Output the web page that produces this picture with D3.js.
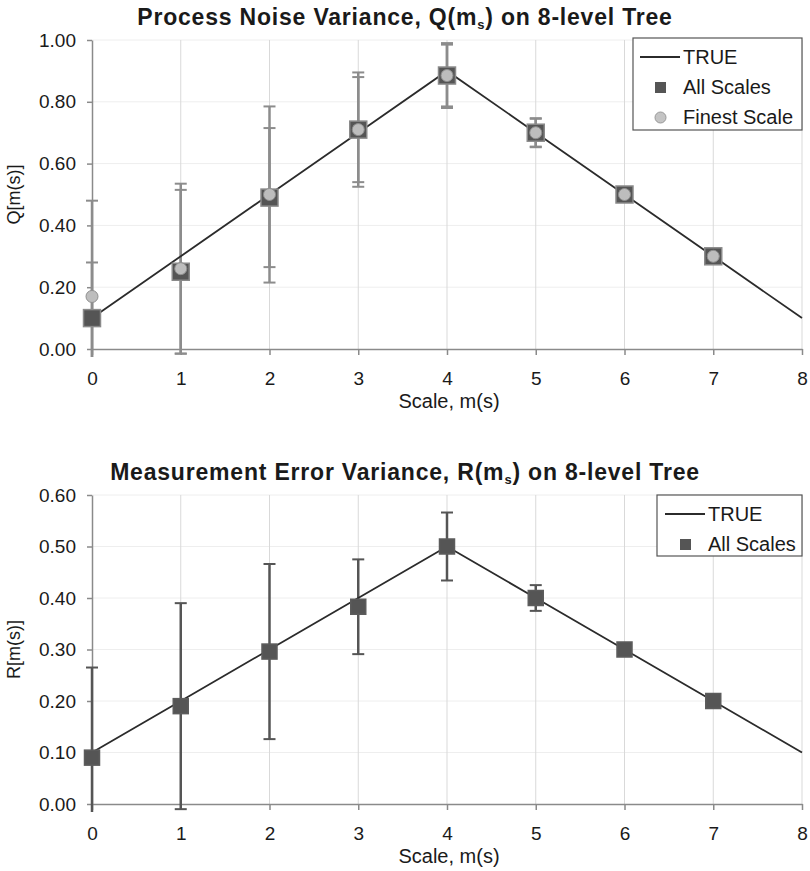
<!DOCTYPE html>
<html>
<head>
<meta charset="utf-8">
<script src="https://cdn.jsdelivr.net/npm/d3@7"></script>
<style>
    body { margin: 0; background: #fff; }
    text { font-family: "Liberation Sans", Arial, sans-serif; fill: #1a1a1a; }
</style>
</head>
<body>
<div id="chart"></div>
<script>
// x values
const scaleTicks = [0, 1, 2, 3, 4, 5, 6, 7, 8];
const estScales = [0, 1, 2, 3, 4, 5, 6, 7];

// Process noise variance Q
const qTicks = [0, 0.2, 0.4, 0.6, 0.8, 1.0];
const qTrue = [0.1, 0.3, 0.5, 0.7, 0.9, 0.7, 0.5, 0.3, 0.1];
const qAllScales = [0.10, 0.25, 0.49, 0.71, 0.885, 0.70, 0.50, 0.30];
const qAllScalesErr = [0.18, 0.265, 0.225, 0.17, 0.10, 0.045, 0.01, 0.01];
const qFinest = [0.17, 0.26, 0.50, 0.71, 0.885, 0.70, 0.50, 0.30];
const qFinestErr = [0.31, 0.275, 0.285, 0.185, 0.105, 0.047, 0.01, 0.01];

// Measurement error variance R
const rTicks = [0, 0.1, 0.2, 0.3, 0.4, 0.5, 0.6];
const rTrue = [0.1, 0.2, 0.3, 0.4, 0.5, 0.4, 0.3, 0.2, 0.1];
const rAllScales = [0.09, 0.19, 0.296, 0.383, 0.50, 0.40, 0.30, 0.20];
const rAllScalesErr = [0.175, 0.2, 0.17, 0.092, 0.066, 0.025, 0.005, 0.005];

const svg = d3.select("#chart")
    .append("svg")
    .attr("width", 810)
    .attr("height", 871);

function drawPanel(opt) {
    const x = d3.scaleLinear().domain([0, 8]).range([92, 802]);
    const y = d3.scaleLinear().domain([0, opt.yMax]).range([opt.bottom, opt.top]);
    const g = svg.append("g");

    // gridlines
    g.selectAll(".hgrid")
        .data(opt.yTicks.slice(1))
        .enter().append("line")
        .attr("x1", x(0)).attr("x2", x(8))
        .attr("y1", d => y(d)).attr("y2", d => y(d))
        .attr("stroke", "#eeeeee");
    g.selectAll(".vgrid")
        .data(scaleTicks.slice(1))
        .enter().append("line")
        .attr("x1", d => x(d)).attr("x2", d => x(d))
        .attr("y1", opt.top).attr("y2", opt.bottom)
        .attr("stroke", "#d9d9d9");

    // axes
    const yAxis = g.append("g")
        .attr("transform", `translate(${x(0)},0)`)
        .call(d3.axisLeft(y).tickValues(opt.yTicks).tickFormat(d3.format(".2f"))
            .tickSize(5).tickSizeOuter(0).tickPadding(11));
    const xAxis = g.append("g")
        .attr("transform", `translate(0,${opt.bottom})`)
        .call(d3.axisBottom(x).tickValues(scaleTicks).tickFormat(d3.format("d"))
            .tickSize(6).tickSizeOuter(0).tickPadding(17));
    [yAxis, xAxis].forEach(a => {
        a.selectAll("path, line").attr("stroke", "#8a8a8a").attr("stroke-width", 1.5);
        a.selectAll("text").style("font-size", "19px").attr("fill", "#1a1a1a");
    });

    // clip for error bars (like Excel, slightly beyond plot)
    const clipId = "clip" + opt.id;
    svg.append("clipPath").attr("id", clipId)
        .append("rect")
        .attr("x", 0).attr("y", opt.top - 10)
        .attr("width", 810).attr("height", opt.bottom - opt.top + 18);

    // error bars
    opt.series.forEach(s => {
        const eb = g.append("g").attr("clip-path", `url(#${clipId})`);
        const items = estScales.map((d, i) => ({ x: d, v: s.values[i], e: s.err[i] }));
        eb.selectAll(".bar")
            .data(items)
            .enter().append("line")
            .attr("x1", d => x(d.x)).attr("x2", d => x(d.x))
            .attr("y1", d => y(d.v + d.e)).attr("y2", d => y(d.v - d.e))
            .attr("stroke", s.errColor).attr("stroke-width", 2.5);
        ["top", "bot"].forEach(side => {
            eb.selectAll(".cap-" + side)
                .data(items)
                .enter().append("line")
                .attr("x1", d => x(d.x) - 6).attr("x2", d => x(d.x) + 6)
                .attr("y1", d => y(side === "top" ? d.v + d.e : d.v - d.e))
                .attr("y2", d => y(side === "top" ? d.v + d.e : d.v - d.e))
                .attr("stroke", s.errColor).attr("stroke-width", 2);
        });
    });

    // TRUE line
    const line = d3.line().x((d, i) => x(scaleTicks[i])).y(d => y(d));
    g.append("path")
        .datum(opt.trueVals)
        .attr("d", line)
        .attr("fill", "none")
        .attr("stroke", "#2b2b2b")
        .attr("stroke-width", 1.8);

    // markers
    opt.series.forEach(s => {
        const items = estScales.map((d, i) => ({ x: d, v: s.values[i] }));
        if (s.shape === "square") {
            g.selectAll(".sq" + s.name)
                .data(items)
                .enter().append("rect")
                .attr("x", d => x(d.x) - s.size / 2)
                .attr("y", d => y(d.v) - s.size / 2)
                .attr("width", s.size).attr("height", s.size)
                .attr("fill", "#555555")
                .attr("stroke", s.stroke).attr("stroke-width", 1.5);
        } else {
            g.selectAll(".ci" + s.name)
                .data(items)
                .enter().append("circle")
                .attr("cx", d => x(d.x)).attr("cy", d => y(d.v))
                .attr("r", 6)
                .attr("fill", "#bdbdbd")
                .attr("stroke", "#8f8f8f").attr("stroke-width", 1);
        }
    });

    // title with subscript
    const title = svg.append("text")
        .attr("x", 405).attr("y", opt.titleY)
        .attr("text-anchor", "middle")
        .style("font-size", "23px").style("font-weight", "bold")
        .style("letter-spacing", "0.8px");
    title.append("tspan").text(opt.titleA);
    title.append("tspan").attr("dy", 4).style("font-size", "13px").text("s");
    title.append("tspan").attr("dy", -4).text(opt.titleB);

    // axis titles
    svg.append("text")
        .attr("x", (x(0) + x(8)) / 2 + 2).attr("y", opt.bottom + 59)
        .attr("text-anchor", "middle")
        .style("font-size", "20px")
        .text("Scale, m(s)");
    svg.append("text")
        .attr("transform", `translate(20,${(opt.top + opt.bottom) / 2}) rotate(-90)`)
        .attr("text-anchor", "middle")
        .style("font-size", "18px")
        .text(opt.yLabel);

    // legend
    const lg = svg.append("g").attr("transform", `translate(${opt.legend.x},${opt.legend.y})`);
    lg.append("rect")
        .attr("width", opt.legend.w).attr("height", opt.legend.h)
        .attr("fill", "#fff").attr("stroke", "#555").attr("stroke-width", 1.2);
    const ox = opt.legend.textX;
    lg.append("line")
        .attr("x1", ox - 43).attr("x2", ox - 3)
        .attr("y1", 19).attr("y2", 19)
        .attr("stroke", "#2b2b2b").attr("stroke-width", 1.8);
    const legendNames = ["TRUE"].concat(opt.series.map(s => s.name));
    lg.selectAll(".lt")
        .data(legendNames)
        .enter().append("text")
        .attr("x", ox)
        .attr("y", (d, i) => 26 + i * 30)
        .style("font-size", "20px")
        .text(d => d);
    opt.series.forEach((s, i) => {
        const cy = 19 + (i + 1) * 30;
        if (s.shape === "square") {
            lg.append("rect")
                .attr("x", ox - 28).attr("y", cy - 5)
                .attr("width", 11).attr("height", 11)
                .attr("fill", "#555555");
        } else {
            lg.append("circle")
                .attr("cx", ox - 22.5).attr("cy", cy + 0.5).attr("r", 5.5)
                .attr("fill", "#c4c4c4").attr("stroke", "#999").attr("stroke-width", 1);
        }
    });
}

drawPanel({
    id: "q",
    top: 40, bottom: 349, yMax: 1.0, yTicks: qTicks,
    trueVals: qTrue,
    titleY: 25,
    titleA: "Process Noise Variance, Q(m",
    titleB: ") on 8-level Tree",
    yLabel: "Q[m(s)]",
    legend: { x: 633, y: 38, w: 169, h: 92, textX: 50 },
    series: [
        { name: "All Scales", shape: "square", size: 17, stroke: "#8a8a8a", values: qAllScales, err: qAllScalesErr, errColor: "#8c8c8c" },
        { name: "Finest Scale", shape: "circle", values: qFinest, err: qFinestErr, errColor: "#8c8c8c" }
    ]
});

drawPanel({
    id: "r",
    top: 495, bottom: 804, yMax: 0.6, yTicks: rTicks,
    trueVals: rTrue,
    titleY: 480,
    titleA: "Measurement Error Variance, R(m",
    titleB: ") on 8-level Tree",
    yLabel: "R[m(s)]",
    legend: { x: 657, y: 495, w: 145, h: 61, textX: 51 },
    series: [
        { name: "All Scales", shape: "square", size: 15, stroke: "#5c5c5c", values: rAllScales, err: rAllScalesErr, errColor: "#555555" }
    ]
});
</script>
</body>
</html>
